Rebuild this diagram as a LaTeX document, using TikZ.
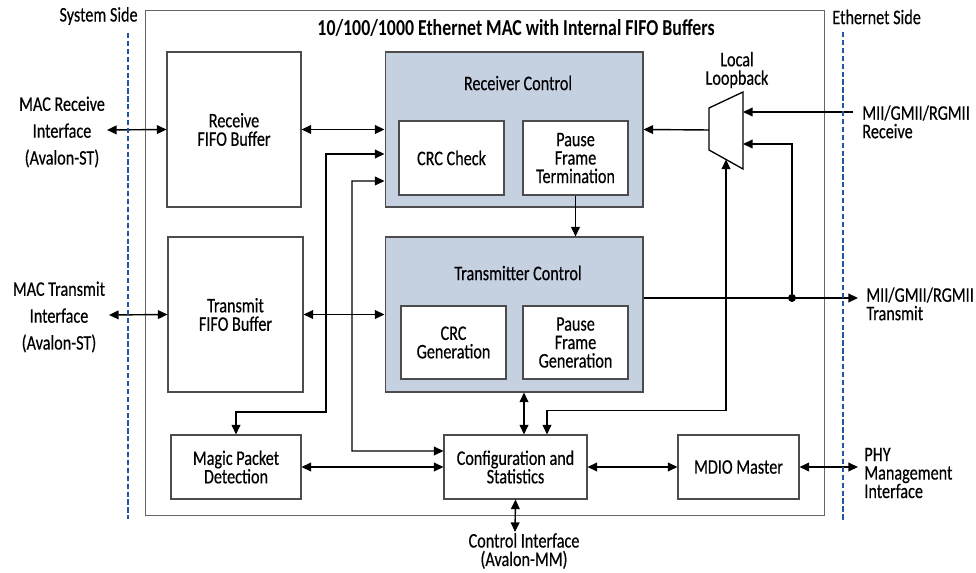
\documentclass[tikz,border=0pt]{standalone}
\usepackage{fontspec}
\setmainfont{Carlito}[FakeStretch=0.78, UprightFeatures={FakeBold=0.4}]
\usepackage{tikz}
\usetikzlibrary{arrows.meta}
\definecolor{ctlblue}{RGB}{197,208,225}
\definecolor{sideblue}{RGB}{30,88,160}

\begin{document}
\begin{tikzpicture}[
  x=0.02cm, y=-0.02cm,
  every node/.style={font=\fontsize{11.8}{10.5}\selectfont, align=center, inner sep=0pt},
  box/.style={draw=black!70, line width=0.6pt, fill=white},
  ctl/.style={draw=black!70, line width=0.6pt, fill=ctlblue},
  arr/.style={-{Triangle[length=5.5pt,width=5pt]}, line width=0.8pt},
  biarr/.style={{Triangle[length=5.5pt,width=5pt]}-{Triangle[length=5.5pt,width=5pt]}, line width=0.8pt},
  side/.style={draw=sideblue, line width=1.1pt, dash pattern=on 3pt off 1.5pt},
  ext/.style={font=\fontsize{11.8}{15.3}\selectfont}
]
  \useasboundingbox (0,0) rectangle (976,573);
  % outer MAC block
  \node[box, draw=black!60, minimum width=13.6cm, minimum height=10.12cm] (mac) at (485,263) {};
  \node[font=\bfseries\fontsize{13}{10.5}\selectfont] (title) at (516,28)
    {10/100/1000 Ethernet MAC with Internal FIFO Buffers};
  \node[anchor=east] (sysside) at (138,16) {System Side};
  \node[anchor=west] (ethside) at (832,17) {Ethernet Side};

  % FIFOs
  \node[box, minimum width=2.68cm, minimum height=3.1cm] (rxfifo) at (234,129.5) {Receive\\FIFO Buffer};
  \node[box, minimum width=2.7cm, minimum height=3.1cm] (txfifo) at (235.5,314.5) {Transmit\\FIFO Buffer};

  % receiver / transmitter control
  \node[ctl, minimum width=5.16cm, minimum height=3.1cm] (rxctl) at (514,129.5) {};
  \node (rxtitle) at (518,83) {Receiver Control};
  \node[box, minimum width=2.1cm, minimum height=1.48cm] (crcchk) at (451.5,158) {CRC Check};
  \node[box, minimum width=2.1cm, minimum height=1.48cm] (pft) at (575.5,158) {Pause\\Frame\\Termination};
  \node[ctl, minimum width=5.16cm, minimum height=3.1cm] (txctl) at (514,314.5) {};
  \node (txtitle) at (518,273) {Transmitter Control};
  \node[box, minimum width=2.1cm, minimum height=1.46cm] (crcgen) at (453.5,342.5) {CRC\\Generation};
  \node[box, minimum width=2.1cm, minimum height=1.46cm] (pfg) at (575.5,342.5) {Pause\\Frame\\Generation};

  % bottom row
  \node[box, minimum width=2.6cm, minimum height=1.28cm] (magic) at (236,467) {Magic Packet\\Detection};
  \node[box, minimum width=2.86cm, minimum height=1.28cm] (cfg) at (515.5,467) {Configuration and\\Statistics};
  \node[box, minimum width=2.42cm, minimum height=1.28cm] (mdio) at (738.5,467) {MDIO Master};

  % loopback mux
  \draw[line width=0.75pt] (709,108) -- (743,92) -- (743,169) -- (709,150) -- cycle;
  \node (loopname) at (737,70) {Local\\Loopback};
  \coordinate (muxout) at (709,130);
  \coordinate (muxrx) at (743,112);
  \coordinate (muxlb) at (743,144);
  \coordinate (muxsel) at (726,159.5);

  % outside interfaces
  \node[ext] (rxif) at (62,132) {MAC Receive\\Interface\\(Avalon-ST)};
  \node[ext] (txif) at (59,317) {MAC Transmit\\Interface\\(Avalon-ST)};
  \node[anchor=north west, align=left] (miirx) at (862,105) {MII/GMII/RGMII\\Receive};
  \node[anchor=north west, align=left] (miitx) at (866,287) {MII/GMII/RGMII\\Transmit};
  \node[anchor=west, align=left] (phy) at (864,473) {PHY\\Management\\Interface};
  \node (ctrlif) at (524,551) {Control Interface\\(Avalon-MM)};
  \coordinate (rxpin) at (107,130);
  \coordinate (txpin) at (109,315);
  \coordinate (miirxpin) at (853,112);
  \coordinate (miitxpin) at (858,298);
  \coordinate (phypin) at (858,467);
  \coordinate (ctrlpin) at (515,532);

  % data path
  \draw[biarr] (rxpin) -- (rxfifo.west);
  \draw[biarr] (rxfifo.east) -- (rxctl.west);
  \draw[biarr] (txpin) -- (txfifo.west);
  \draw[biarr] (txfifo.east) -- (txctl.west);
  \draw[arr] (muxout) -- (rxctl.east);
  \draw[arr] (miirxpin) -- (muxrx);
  \draw[arr] (pft.south) -- (pft.south |- txctl.north);
  \node[circle, fill=black, minimum size=0.16cm] (tap) at (792,298) {};
  \draw[arr] (txctl.east |- tap) -- (miitxpin);
  \draw[arr] (tap) |- (muxlb);

  % control paths
  \draw[biarr] (magic.north) |- (326,412) |- ([yshift=-0.49cm]rxctl.west);
  \draw[biarr] ([yshift=-1.03cm]rxctl.west) -| (352,451) -- ([yshift=0.32cm]cfg.west);
  \draw[biarr] ([xshift=0.17cm]cfg.north) -- ([xshift=0.17cm]cfg.north |- txctl.south);
  \draw[biarr] ([xshift=0.63cm]cfg.north) -- ++(0,-24) -| (muxsel);
  \draw[biarr] (magic.east) -- (cfg.west);
  \draw[biarr] (cfg.east) -- (mdio.west);
  \draw[biarr] (mdio.east) -- (phypin);
  \draw[biarr] (cfg.south) -- (ctrlpin);

  % system / ethernet boundaries
  \draw[side] (128,33) -- (128,519);
  \draw[side] (843,32) -- (843,520);
\end{tikzpicture}
\end{document}
